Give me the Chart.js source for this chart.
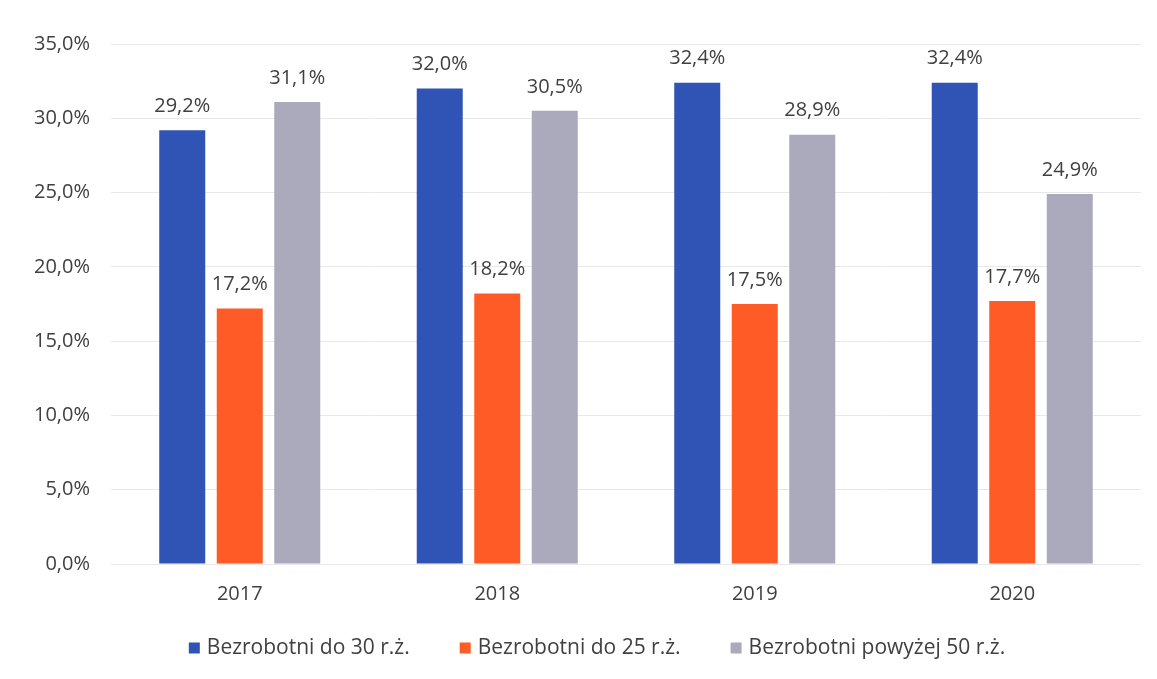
<!DOCTYPE html>
<html><head><meta charset="utf-8">
<script src="https://cdn.jsdelivr.net/npm/chart.js@4/dist/chart.umd.min.js"></script>
<style>html,body{margin:0;padding:0;background:#fff}#wrap{width:1157px;height:679px}</style>
</head><body><div id="wrap"><canvas id="c" width="1157" height="679"></canvas></div>
<script>
const categories = ["2017", "2018", "2019", "2020"];
const seriesNames = ["Bezrobotni do 30 r.ż.", "Bezrobotni do 25 r.ż.", "Bezrobotni powyżej 50 r.ż."];
const under30 = [29.2, 32.0, 32.4, 32.4];
const under25 = [17.2, 18.2, 17.5, 17.7];
const over50 = [31.1, 30.5, 28.9, 24.9];
const colors = ["#2F54B5", "#FF5B26", "#ABAABD"];
const yTicks = [0, 5, 10, 15, 20, 25, 30, 35];

const FONT = "'Open Sans', sans-serif";
const TEXT = "#404040";
const fmt = v => v.toFixed(1).replace('.', ',') + '%';

const labelPlugin = {
  id: 'valueLabels',
  afterDatasetsDraw(chart) {
    const ctx = chart.ctx;
    ctx.save();
    ctx.font = "20px " + FONT;
    ctx.fillStyle = TEXT;
    ctx.textAlign = "center";
    ctx.textBaseline = "bottom";
    chart.data.datasets.forEach((ds, i) => {
      chart.getDatasetMeta(i).data.forEach((bar, j) => {
        ctx.fillText(fmt(ds.data[j]), bar.x, bar.y - 14);
      });
    });
    ctx.restore();
  }
};

const legendPlugin = {
  id: 'bottomLegend',
  afterDraw(chart) {
    const ctx = chart.ctx;
    ctx.save();
    ctx.font = "21px " + FONT;
    ctx.textBaseline = "middle";
    ctx.textAlign = "left";
    const box = 11, gapText = 7, gapItem = 50, cy = 648;
    const ds = chart.data.datasets;
    const widths = ds.map(d => box + gapText + ctx.measureText(d.label).width);
    const total = widths.reduce((a, b) => a + b, 0) + gapItem * (ds.length - 1);
    let x = 597 - total / 2;
    ds.forEach((d, i) => {
      ctx.fillStyle = d.backgroundColor;
      ctx.fillRect(x, cy - box / 2, box, box);
      ctx.fillStyle = TEXT;
      ctx.fillText(d.label, x + box + gapText, cy);
      x += widths[i] + gapItem;
    });
    ctx.restore();
  }
};

new Chart(document.getElementById('c'), {
  type: 'bar',
  data: {
    labels: categories,
    datasets: [under30, under25, over50].map((d, i) => ({
      label: seriesNames[i], data: d, backgroundColor: colors[i],
      categoryPercentage: 0.67, barPercentage: 0.8
    }))
  },
  options: {
    responsive: false, animation: false,
    layout: { padding: { top: 44, right: 16, left: 0, bottom: 65 } },
    plugins: {
      tooltip: { enabled: false },
      legend: { display: false }
    },
    scales: {
      x: {
        afterFit: s => { s.height = 50; },
        grid: { display: false, drawTicks: false },
        border: { display: false },
        ticks: { font: { family: FONT, size: 20 }, color: TEXT, padding: 18 }
      },
      y: {
        min: 0, max: 35,
        afterFit: s => { s.width = 111; },
        afterBuildTicks: s => { s.ticks = yTicks.map(v => ({ value: v })); },
        grid: { color: '#E8E8E8', drawTicks: false },
        border: { display: false },
        ticks: { font: { family: FONT, size: 20 }, color: TEXT, padding: 21, callback: v => fmt(v) }
      }
    }
  },
  plugins: [labelPlugin, legendPlugin]
});
</script></body></html>
